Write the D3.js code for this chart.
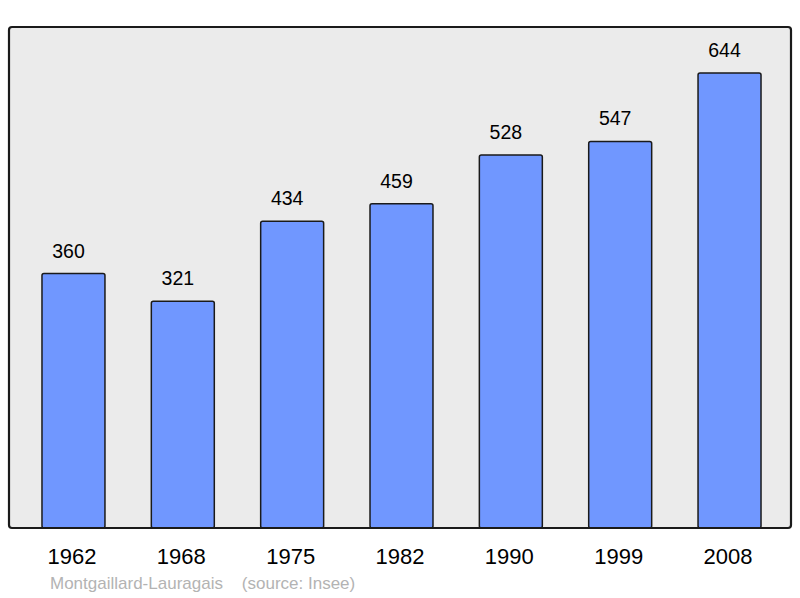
<!DOCTYPE html>
<head>
<meta charset="utf-8">
<style>
body { margin: 0; background: #fff; }
.chart text { font-family: "Liberation Sans", Arial, sans-serif; }
.value { font-size: 19.5px; fill: #000; text-anchor: middle; }
.year { font-size: 22px; fill: #000; text-anchor: middle; }
.source { font-size: 17px; fill: #b3b3b3; }
</style>
</head>
<body>
<svg class="chart"></svg>
<script src="https://cdn.jsdelivr.net/npm/d3@7"></script>
<script>

const years = ['1962', '1968', '1975', '1982', '1990', '1999', '2008']
const population = [360, 321, 434, 459, 528, 547, 644]
const townName = 'Montgaillard-Lauragais'
const sourceLabel = '(source: Insee)'

const width = 800
const height = 598
const frame = {left: 9, top: 27, right: 791, bottom: 528}

let svg = d3.select('svg')
  .attr('width', width)
  .attr('height', height)

let x = d3.scaleBand()
  .domain(years)
  .range([18.8, 784.2])
  .paddingInner(0.424)
  .paddingOuter(0.212)

let y = d3.scaleLinear()
  .domain([0, 709])
  .range([frame.bottom, frame.top])

svg.append('rect')
  .attr('x', frame.left)
  .attr('y', frame.top)
  .attr('width', frame.right - frame.left)
  .attr('height', frame.bottom - frame.top)
  .attr('rx', 3)
  .style('fill', '#ebebeb')
  .style('stroke', 'none')

let bars = svg.append('g')
  .selectAll('g')
    .data(years.map((year, i) => ({year, value: population[i]})))
  .enter()
    .append('g')

bars.append('rect')
  .attr('x', d => x(d.year))
  .attr('y', d => y(d.value))
  .attr('width', x.bandwidth())
  .attr('height', d => y(0) - y(d.value))
  .attr('rx', 2)
  .style('fill', '#7097ff')
  .style('stroke', '#1a1a1a')
  .style('stroke-width', 1.5)

// value labels sit a little left of the bar centre in the original
bars.append('text')
  .attr('class', 'value')
  .attr('x', d => x(d.year) + x.bandwidth() / 2 - 5)
  .attr('y', d => y(d.value) - 16)
  .text(d => d.value)

// frame drawn on top so bar bottoms tuck under it
svg.append('rect')
  .attr('x', frame.left)
  .attr('y', frame.top)
  .attr('width', frame.right - frame.left)
  .attr('height', frame.bottom - frame.top)
  .attr('rx', 3)
  .style('fill', 'none')
  .style('stroke', '#1a1a1a')
  .style('stroke-width', 2.2)

svg.append('g')
  .selectAll('text')
    .data(years)
  .enter()
    .append('text')
      .attr('class', 'year')
      .attr('x', d => x(d) + x.bandwidth() / 2 - 1.5)
      .attr('y', 564)
      .text(d => d)

svg.append('text')
  .attr('class', 'source')
  .attr('x', 50)
  .attr('y', 589)
  .attr('xml:space', 'preserve')
  .text(townName + '    ' + sourceLabel)

</script>
</body>
